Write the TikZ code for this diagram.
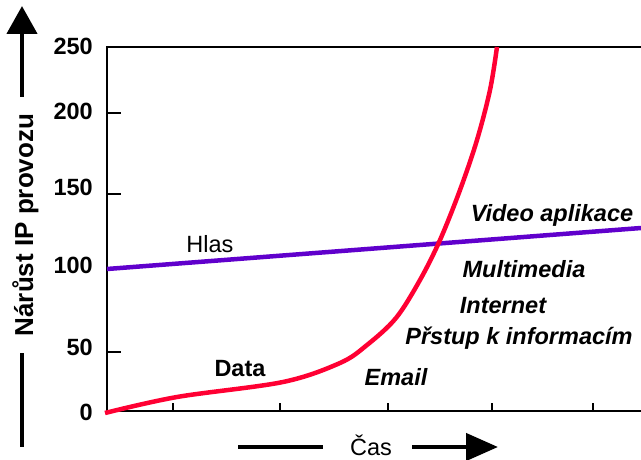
\documentclass[tikz,border=0pt]{standalone}
\usepackage{fontspec}
\setmainfont{Liberation Sans}
\usetikzlibrary{arrows.meta}
\definecolor{curvered}{RGB}{255,0,51}
\definecolor{voicepurple}{RGB}{96,0,204}
\tikzset{
  lbl/.style={inner sep=0pt, font=\fontsize{23.5}{28}\selectfont},
  blbl/.style={lbl, font=\fontsize{23.5}{28}\selectfont\bfseries},
  ilbl/.style={lbl, font=\fontsize{23.5}{28}\selectfont\bfseries\itshape},
  ticklbl/.style={blbl, anchor=base east},
  axisline/.style={line width=2.7pt},
  bigarrow/.style={line width=4.5pt},
}
\begin{document}
\begin{tikzpicture}[x=1pt,y=-1pt]
\useasboundingbox (0,0) rectangle (641,460);
% frame
\draw[axisline] (641,47) -- (107,47) -- (107,411) -- (641,411);
% y ticks
\foreach \yy in {113,194,269,352} \draw[axisline] (107,\yy) -- (121,\yy);
% x ticks
\foreach \xx in {173,280,388,492,593} \draw[axisline] (\xx,411) -- (\xx,403);
% tick labels
\node[ticklbl] (t250) at (93,55) {250};
\node[ticklbl] (t200) at (93,120) {200};
\node[ticklbl] (t150) at (93,196) {150};
\node[ticklbl] (t100) at (93,273) {100};
\node[ticklbl] (t50) at (93,355) {50};
\node[ticklbl] (t0) at (93,420) {0};
% voice line
\draw[voicepurple, line width=4.5pt] (107,269) -- (641,228);
% data curve
\draw[curvered, line width=4.5pt, line join=round]
  plot[smooth, tension=0.55] coordinates {(105,413) (177,397) (283,382) (340,363) (367,345) (396,318) (420,280) (440,240) (460,190) (477,140) (490,90) (497,47)};
% labels
\node[lbl, anchor=base] (hlas) at (210,252) {Hlas};
\node[blbl, anchor=base] (data) at (240,376) {Data};
\node[ilbl, anchor=base] (email) at (396,385) {Email};
\node[ilbl, anchor=base] (pristup) at (519,344) {Přstup k informacím};
\node[ilbl, anchor=base] (internet) at (503,313) {Internet};
\node[ilbl, anchor=base] (multi) at (524,277) {Multimedia};
\node[ilbl, anchor=base] (video) at (552,222) {Video aplikace};
% y axis title and arrow
\node[lbl, font=\fontsize{26}{30}\selectfont\bfseries, rotate=90, anchor=base] (ytitle) at (33,225) {Nárůst IP provozu};
\coordinate (yarrA) at (22,97);
\coordinate (yarrB) at (22,6);
\coordinate (ylineA) at (22,353);
\coordinate (ylineB) at (22,447);
\draw[bigarrow, -{Triangle[width=30pt,length=28pt]}] (yarrA) -- (yarrB);
\draw[bigarrow] (ylineA) -- (ylineB);
% x axis title and arrow
\node[lbl, anchor=base] (xtitle) at (371,455) {Čas};
\coordinate (xlineA) at (238,447);
\coordinate (xlineB) at (323,447);
\coordinate (xarrA) at (412,447);
\coordinate (xarrB) at (498,447);
\draw[bigarrow] (xlineA) -- (xlineB);
\draw[bigarrow, -{Triangle[width=27pt,length=32pt]}] (xarrA) -- (xarrB);
\end{tikzpicture}
\end{document}
